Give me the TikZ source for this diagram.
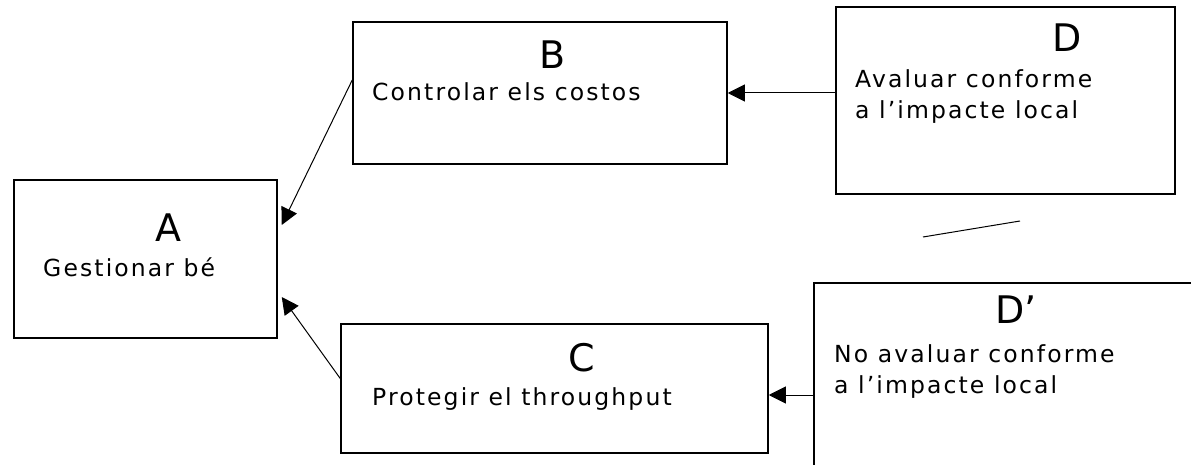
\documentclass[tikz,border=0pt]{standalone}
\usepackage{fontspec}
\setmainfont{DejaVu Sans}
\newfontfamily\bodyfont[LetterSpace=9]{DejaVu Sans}
\usetikzlibrary{arrows.meta}
\begin{document}
\begin{tikzpicture}[x=1pt,y=-1pt,
  box/.style={draw, line width=1.5pt, inner sep=0pt},
  big/.style={font=\fontsize{38}{40}\selectfont, inner sep=0pt, anchor=base},
  body/.style={font=\bodyfont\fontsize{23.5}{31}\selectfont, inner sep=0pt, anchor=base west, align=left},
  arr/.style={line width=1pt, -{Triangle[length=17pt,width=17pt]}}]
\useasboundingbox (0,0) rectangle (1191,465);
\clip (0,0) rectangle (1191,465);
% boxes
\node[box, minimum width=263pt, minimum height=158pt] (A) at (145.5,259) {};
\node[box, minimum width=374pt, minimum height=142pt] (B) at (540,93) {};
\node[box, minimum width=427pt, minimum height=129pt] (C) at (554.5,388.5) {};
\node[box, minimum width=339pt, minimum height=187pt] (D) at (1005.5,100.5) {};
\node[box, minimum width=400pt, minimum height=207pt] (Dp) at (1014,386.5) {};
% texts
\node[big] (tA) at (168,241) {A};
\node[body] (bA) at (43,276) {Gestionar bé};
\node[big] (tB) at (553,69) {B};
\node[body] (bB) at (372,101) {Controlar els costos};
\node[big] (tC) at (582,371) {C};
\node[body] (bC) at (372,405) {Protegir el throughput};
\node[big] (tD) at (1067,52) {D};
\node[body] (bD) at (855,119) {Avaluar conforme\\a l’impacte local};
\node[big, anchor=base west] (tDp) at (995,323) {D’};
\node[body] (bDp) at (834,393) {No avaluar conforme\\a l’impacte local};
% connectors
\draw[arr] ([yshift=13pt]B.west) -- ([yshift=34pt,xshift=4pt]A.east);
\draw[arr] ([yshift=10pt]C.west) -- ([yshift=-38pt,xshift=4pt]A.east);
\draw[arr] ([yshift=7.5pt]D.west) -- (B.east);
\draw[arr] ([yshift=-8.5pt]Dp.west) -- ([yshift=-6.5pt]C.east);
% loose stroke
\coordinate (s1) at (923,237);
\coordinate (s2) at (1020,221);
\draw[line width=1pt] (s1) -- (s2);
\end{tikzpicture}
\end{document}
